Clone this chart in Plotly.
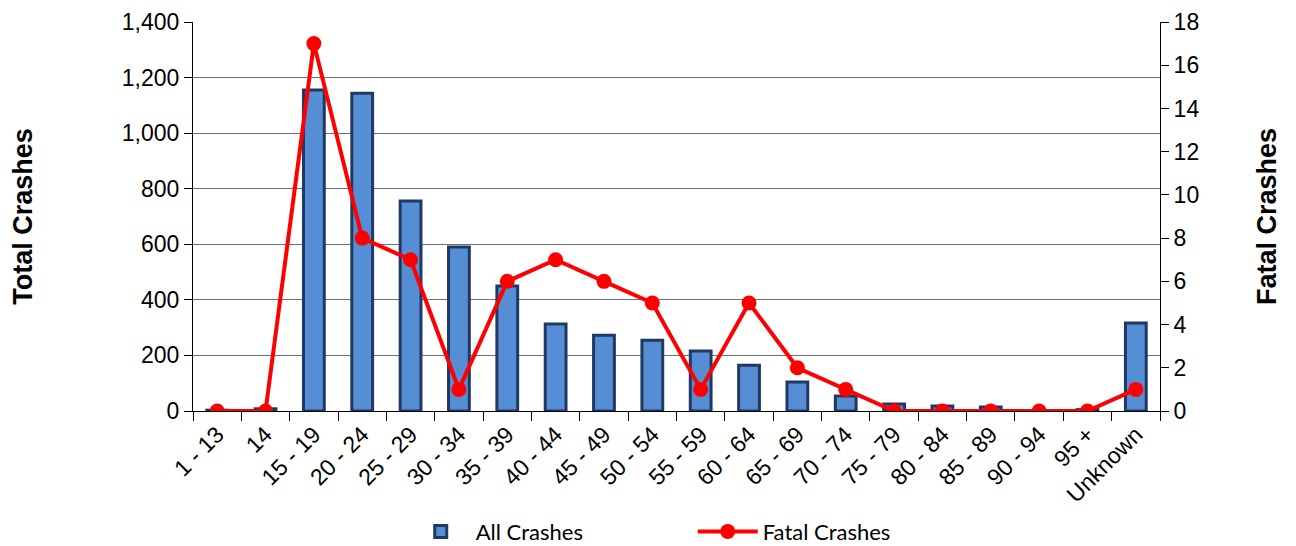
import plotly.graph_objects as go

categories = ["1 - 13", "14", "15 - 19", "20 - 24", "25 - 29", "30 - 34", "35 - 39",
              "40 - 44", "45 - 49", "50 - 54", "55 - 59", "60 - 64", "65 - 69",
              "70 - 74", "75 - 79", "80 - 84", "85 - 89", "90 - 94", "95 +", "Unknown"]
all_crashes = [3, 8, 1155, 1144, 756, 590, 450, 313, 273, 255, 216, 165, 104,
               54, 25, 18, 14, 0, 5, 317]
fatal_crashes = [0, 0, 17, 8, 7, 1, 6, 7, 6, 5, 1, 5, 2, 1, 0, 0, 0, 0, 0, 1]
left_ticks = [0, 200, 400, 600, 800, 1000, 1200, 1400]
right_ticks = [0, 2, 4, 6, 8, 10, 12, 14, 16, 18]

font_main = "Liberation Sans, Arial, sans-serif"
NB = "\u00a0"

fig = go.Figure()
fig.add_trace(go.Bar(
    x=categories, y=all_crashes, name="All Crashes",
    marker=dict(color="#558ED5", line=dict(color="#1F3864", width=3)),
    yaxis="y",
))
fig.add_trace(go.Scatter(
    x=categories, y=fatal_crashes, name="Fatal Crashes", mode="lines+markers",
    line=dict(color="#FF0000", width=4),
    marker=dict(color="#FF0000", size=15),
    yaxis="y2",
))

fig.update_layout(
    width=1296, height=546,
    margin=dict(l=185, r=144, t=14, b=143, autoexpand=False),
    plot_bgcolor="white", paper_bgcolor="white",
    bargap=0.57,
    font=dict(family=font_main, size=23, color="black"),
    showlegend=True,
    legend=dict(orientation="h", x=0.220, xanchor="left", y=-0.31, yanchor="middle",
                font=dict(family="Lato, sans-serif", size=22), itemwidth=60,
                entrywidthmode="pixels", entrywidth=212),
    xaxis=dict(
        range=[-0.5, 19.5], automargin=False,
        tickangle=-45, tickson="boundaries", ticks="outside", ticklen=9,
        tickcolor="black", showline=True, linecolor="black", linewidth=1,
        tickfont=dict(size=23), showgrid=False,
    ),
    yaxis=dict(
        range=[0, 1400], tickvals=left_ticks, tickformat=",", ticks="outside",
        ticklen=8, tickcolor="black", showline=True, linecolor="black",
        gridcolor="#707070", gridwidth=1, zeroline=False, automargin=False,
        tickfont=dict(size=23), ticksuffix=NB + NB,
        title=dict(text="<b>Total Crashes</b>", font=dict(size=27), standoff=82),
    ),
    yaxis2=dict(
        range=[0, 18], tickvals=right_ticks, overlaying="y", side="right",
        ticks="outside", ticklen=8, tickcolor="black", showline=True,
        linecolor="black", showgrid=False, zeroline=False, automargin=False,
        tickfont=dict(size=23), tickprefix=NB,
        title=dict(text="<b>Fatal Crashes</b>", font=dict(size=27), standoff=58),
    ),
)

fig.write_html("out.html")
